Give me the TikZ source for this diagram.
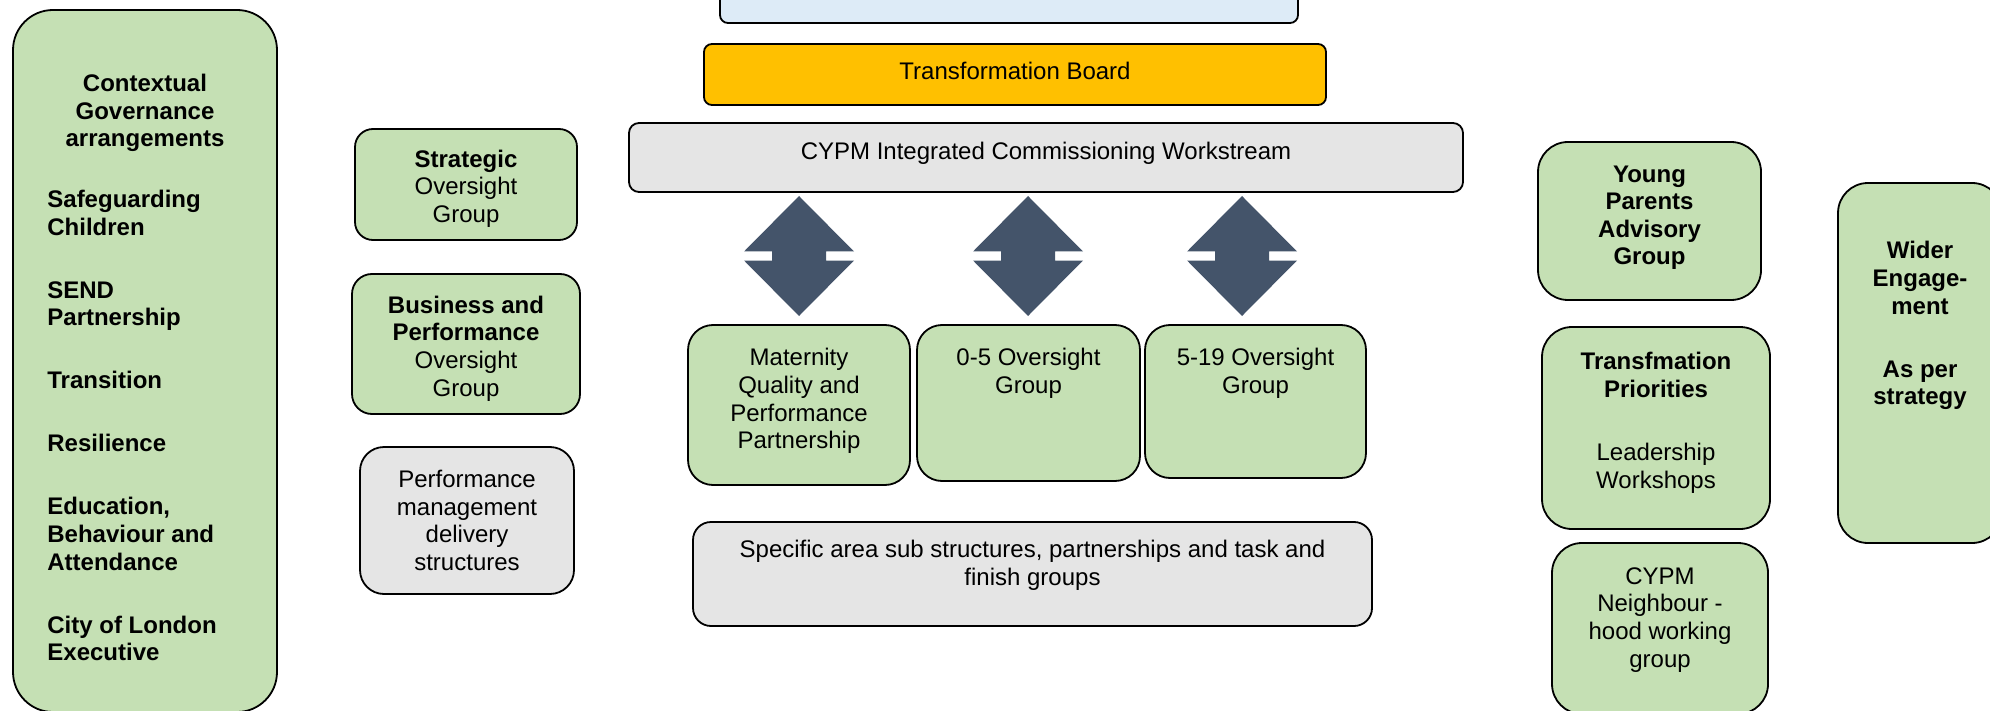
\documentclass[tikz,border=0pt]{standalone}
\usepackage{fontspec}
\setmainfont{Liberation Sans}
\usetikzlibrary{positioning}
\definecolor{grp}{HTML}{C5E0B4}
\definecolor{pale}{HTML}{E5E5E5}
\definecolor{sky}{HTML}{DDEBF7}
\definecolor{amber}{HTML}{FFC000}
\definecolor{slate}{HTML}{44546A}

\begin{document}
\begin{tikzpicture}[x=0.5pt,y=-0.5pt,
    every node/.style={font=\fontsize{12}{13.8}\selectfont},
    box/.style={draw=black,line width=0.9pt,inner sep=0pt,align=center},
    grpbox/.style={box,fill=grp},
    palebox/.style={box,fill=pale},
    txt/.style={inner sep=0pt,align=center}]
    \useasboundingbox (0,0) rectangle (1990,711);
    \clip (0,0) rectangle (1990,711);

    % left column
    \node[grpbox,minimum width=132pt,minimum height=351pt,rounded corners=20pt] (ctx) at (145,361) {};
    \node[txt,below=32.3pt of ctx.north] (ctxhead) {\textbf{Contextual}\\\textbf{Governance}\\\textbf{arrangements}};
    \node[txt,align=left,anchor=north west] (ctxlist) at (47,190) {\bfseries Safeguarding\\\bfseries Children\\[17.7pt]
      \bfseries SEND\\\bfseries Partnership\\[17.7pt]
      \bfseries Transition\\[17.7pt]
      \bfseries Resilience\\[17.7pt]
      \bfseries Education,\\\bfseries Behaviour and\\\bfseries Attendance\\[17.7pt]
      \bfseries City of London\\\bfseries Executive};

    \node[grpbox,minimum width=111pt,minimum height=55.5pt,rounded corners=9pt] (strat) at (466,184.5) {};
    \node[txt] (strattext) at ([yshift=-2pt]strat.center) {\textbf{Strategic}\\Oversight\\Group};
    \node[grpbox,minimum width=114pt,minimum height=70pt,rounded corners=10pt] (busi) at (466,344) {};
    \node[txt] (busitext) at ([yshift=-2.2pt]busi.center) {\textbf{Business and}\\\textbf{Performance}\\Oversight\\Group};
    \node[palebox,minimum width=107pt,minimum height=73.5pt,rounded corners=12pt] (perf) at (467,520.5) {Performance\\management\\delivery\\structures};

    % centre column
    \node[box,fill=sky,minimum width=289pt,minimum height=40pt,rounded corners=4pt] (lead) at (1009,-17) {};
    \node[box,fill=amber,minimum width=311pt,minimum height=30.5pt,rounded corners=4pt] (tb) at (1015,74.5) {};
    \node[txt] (tbtext) at ([yshift=2pt]tb.center) {Transformation Board};
    \node[palebox,minimum width=417pt,minimum height=34.5pt,rounded corners=5pt] (ws) at (1046,157.5) {};
    \node[txt,below=9.8pt of ws.north] (wstext) {CYPM Integrated Commissioning Workstream};

    \foreach \cx in {799,1028,1242}
      \fill[slate,shift={(\cx,256)}] (0,-60) -- (55,-4.5) -- (27,-4.5) -- (27,4.5) -- (55,4.5) -- (0,60)
        -- (-55,4.5) -- (-27,4.5) -- (-27,-4.5) -- (-55,-4.5) -- cycle;

    \node[grpbox,minimum width=111pt,minimum height=80pt,rounded corners=12.5pt] (mat) at (799,405) {};
    \node[txt,below=12pt of mat.north] (mattext) {Maternity\\Quality and\\Performance\\Partnership};
    \node[grpbox,minimum width=111.5pt,minimum height=78pt,rounded corners=12.5pt] (early) at (1028.5,403) {};
    \node[txt,below=12pt of early.north] (earlytext) {0-5 Oversight\\Group};
    \node[grpbox,minimum width=110.5pt,minimum height=76.5pt,rounded corners=12.5pt] (school) at (1255.5,401.5) {};
    \node[txt,below=12pt of school.north] (schooltext) {5-19 Oversight\\Group};

    \node[palebox,minimum width=339.5pt,minimum height=52pt,rounded corners=9pt] (spec) at (1032.5,574) {};
    \node[txt,below=9.5pt of spec.north] (spectext) {Specific area sub structures, partnerships and task and\\finish groups};

    % right column
    \node[grpbox,minimum width=111.5pt,minimum height=79pt,rounded corners=15pt] (ypag) at (1649.5,221) {};
    \node[txt] (ypagtext) at ([yshift=1.6pt]ypag.center) {\textbf{Young}\\\textbf{Parents}\\\textbf{Advisory}\\\textbf{Group}};
    \node[grpbox,minimum width=114pt,minimum height=101pt,rounded corners=15pt] (prio) at (1656,428) {};
    \node[txt,below=13pt of prio.north] (priotext) {\textbf{Transfmation}\\\textbf{Priorities}\\[17.7pt]Leadership\\Workshops};
    \node[grpbox,minimum width=108pt,minimum height=85.5pt,rounded corners=15pt] (nbhd) at (1660,628.5) {};
    \node[txt,below=12.5pt of nbhd.north] (nbhdtext) {CYPM\\ Neighbour -\\hood working\\group};

    \node[grpbox,minimum width=82pt,minimum height=180pt,rounded corners=15pt] (wider) at (1920,363) {};
    \node[txt,below=29.5pt of wider.north] (widertext) {\textbf{Wider}\\\textbf{Engage-}\\\textbf{ment}\\[17.7pt]\textbf{As per}\\\textbf{strategy}};
  \end{tikzpicture}
\end{document}
